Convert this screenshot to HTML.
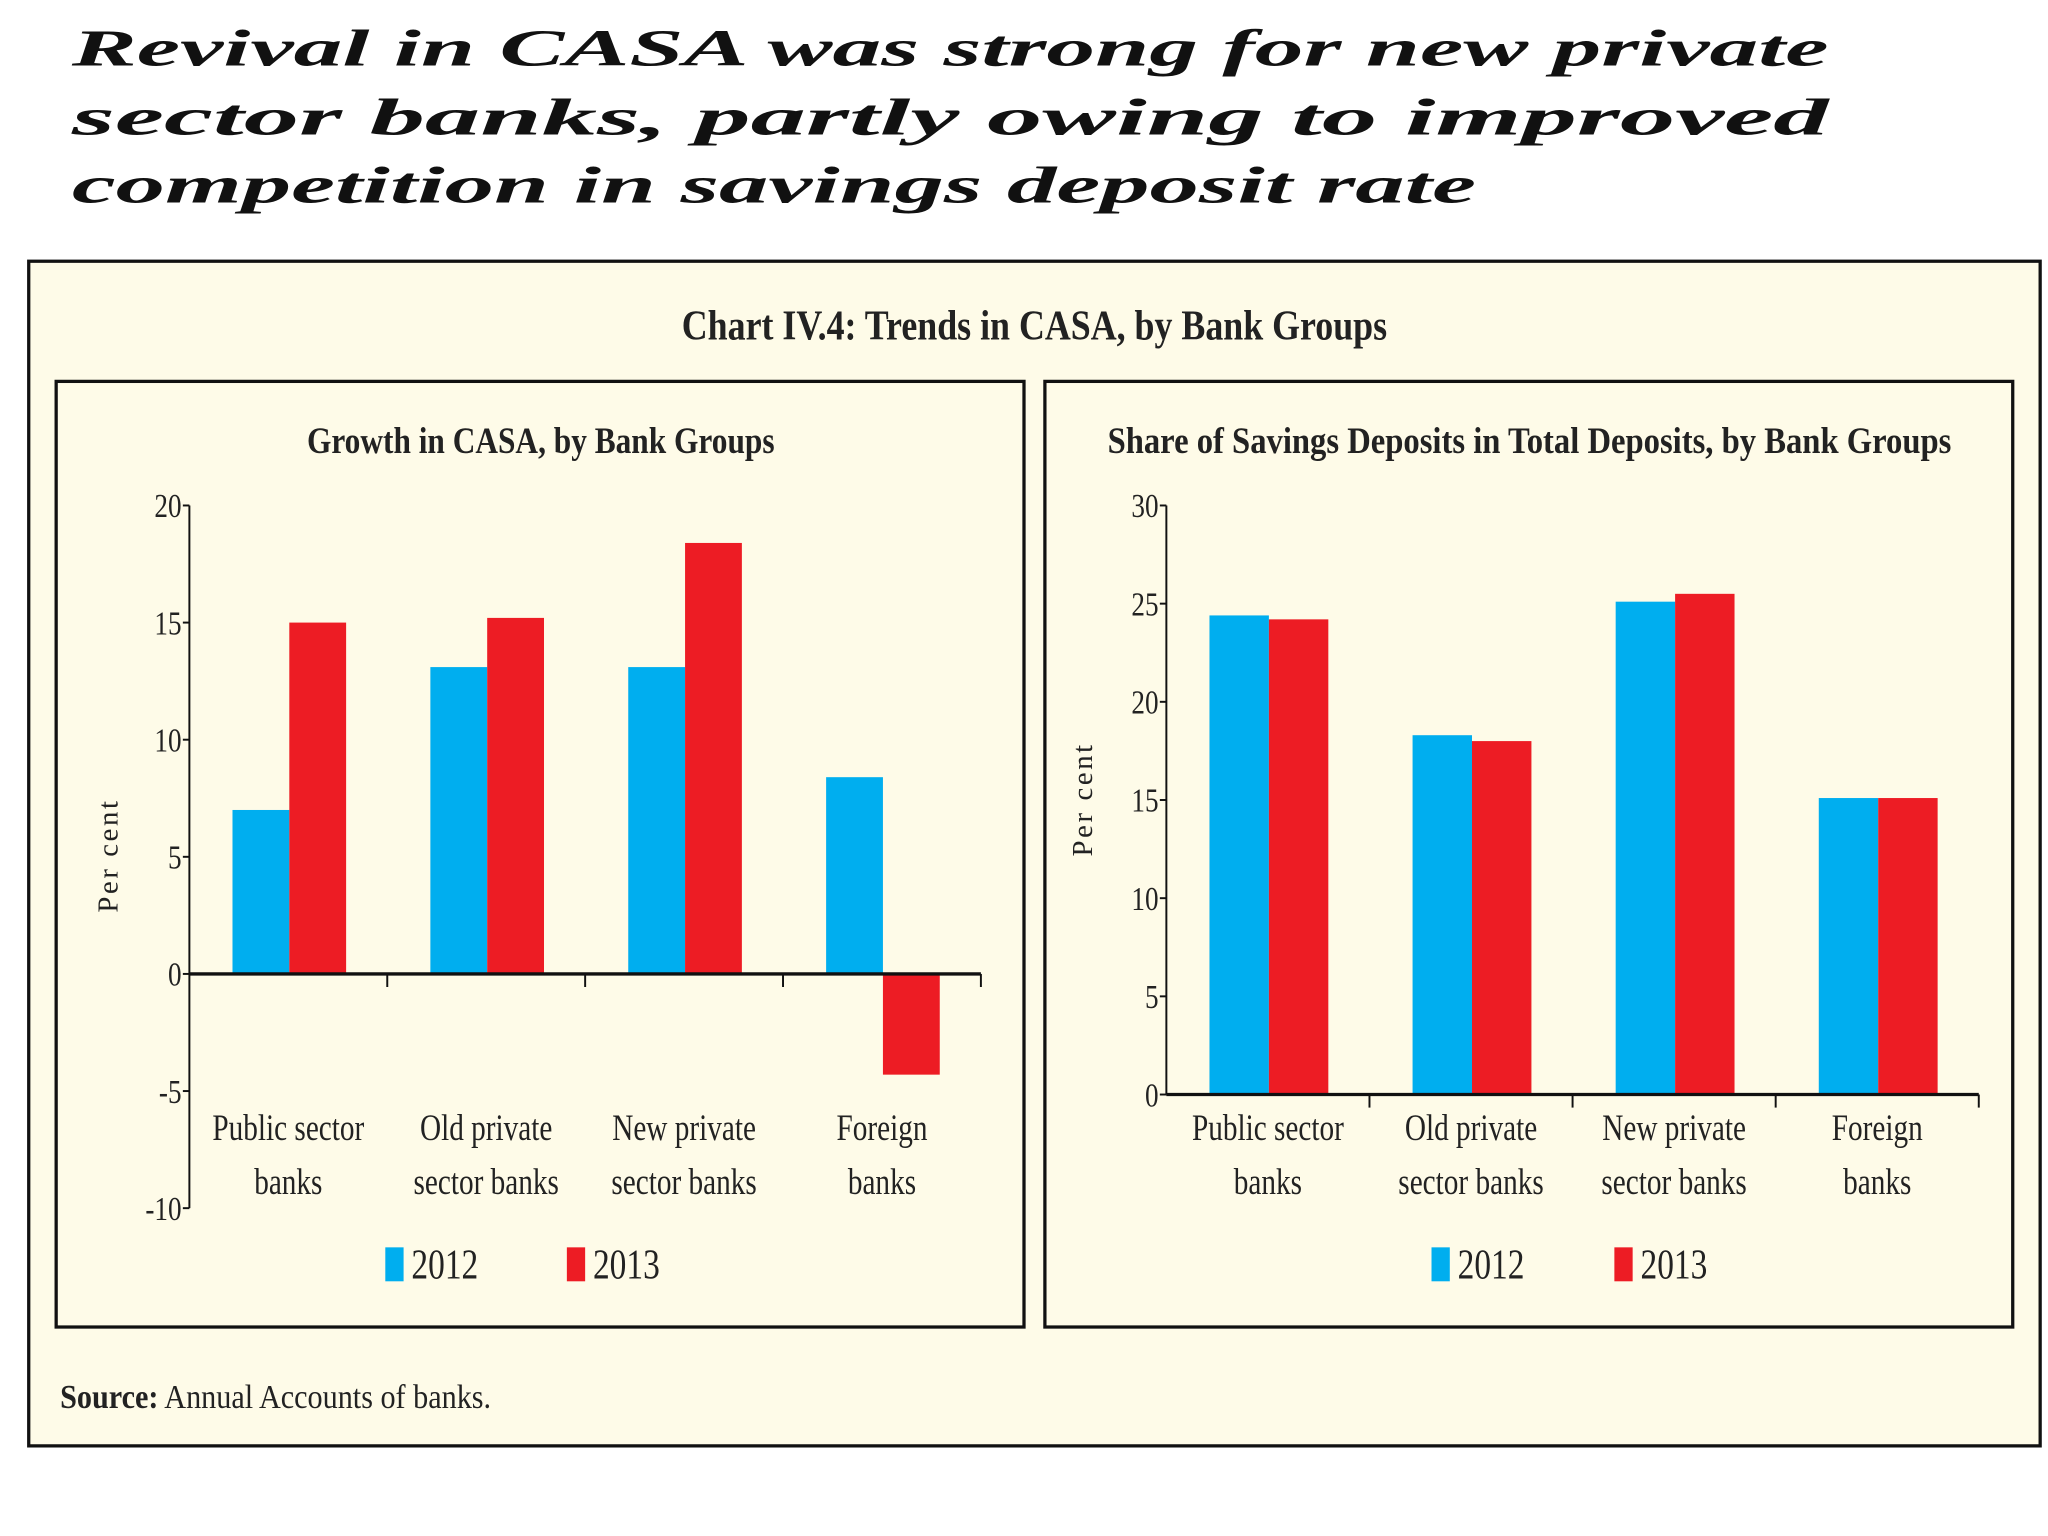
<!DOCTYPE html>
<html><head><meta charset="utf-8"><style>
html,body{margin:0;padding:0;background:#fff;width:2048px;height:1536px;overflow:hidden}
#wrap{transform:scale(1.306122);transform-origin:0 0;width:1568px;height:1176px}
text{font-family:"Liberation Serif",serif}
</style></head><body>
<div id="wrap">
<svg id="svg" width="1568" height="1176" viewBox="0 0 1568 1176">
<g font-weight="bold" font-style="italic" font-size="40" fill="#111">
<text x="55" y="50" textLength="1345" lengthAdjust="spacingAndGlyphs">Revival in CASA was strong for new private</text>
<text x="55" y="103" textLength="1345" lengthAdjust="spacingAndGlyphs">sector  banks,  partly  owing  to  improved</text>
<text x="55" y="155" textLength="1075" lengthAdjust="spacingAndGlyphs">competition in savings deposit rate</text>
</g>
<rect x="22" y="200" width="1540" height="907" fill="#fefbe8" stroke="#111" stroke-width="2.5"/>
<text x="522" y="260" textLength="540" lengthAdjust="spacingAndGlyphs" font-size="32" font-weight="bold" fill="#222">Chart IV.4: Trends in CASA, by Bank Groups</text>
<rect x="43" y="292" width="741" height="724" fill="none" stroke="#111" stroke-width="2.5"/>
<rect x="800" y="292" width="741" height="724" fill="none" stroke="#111" stroke-width="2.5"/>
<text x="235" y="347" textLength="358" lengthAdjust="spacingAndGlyphs" font-size="28" font-weight="bold" fill="#222">Growth in CASA, by Bank Groups</text>
<text x="848" y="347" textLength="646" lengthAdjust="spacingAndGlyphs" font-size="28" font-weight="bold" fill="#222">Share of Savings Deposits in Total Deposits, by Bank Groups</text>
<text x="46" y="1078" font-size="26" fill="#222" textLength="330" lengthAdjust="spacingAndGlyphs"><tspan font-weight="bold">Source:</tspan> Annual Accounts of banks.</text>
<g id="left"></g>
<g id="right"></g>
</svg>
</div>
<script>
const categories = [["Public sector","banks"],["Old private","sector banks"],["New private","sector banks"],["Foreign","banks"]];
const seriesNames = ["2012","2013"];
const growth2012 = [7.0, 13.1, 13.1, 8.4];
const growth2013 = [15.0, 15.2, 18.4, -4.3];
const share2012 = [24.4, 18.3, 25.1, 15.1];
const share2013 = [24.2, 18.0, 25.5, 15.1];
const leftTicks = [20, 15, 10, 5, 0, -5, -10];
const rightTicks = [30, 25, 20, 15, 10, 5, 0];
const colors = ["#00aeef", "#ed1c24"];
const NS = "http://www.w3.org/2000/svg";
function mk(tag, attrs, parent){const e=document.createElementNS(NS,tag);for(const k in attrs)e.setAttribute(k,attrs[k]);parent.appendChild(e);return e;}
function draw(g, cfg){
  const y = v => cfg.y0 + (v - cfg.min) / (cfg.max - cfg.min) * (cfg.y1 - cfg.y0);
  const catW = (cfg.xEnd - cfg.x0) / categories.length;
  // axis
  let ax = mk("line",{x1:cfg.x0,x2:cfg.x0,y1:y(cfg.max),y2:y(cfg.min),stroke:"#111","stroke-width":1.5},g);
  
  
  cfg.ticks.forEach(t=>{
    const tl=mk("line",{x1:cfg.x0-5,x2:cfg.x0,y1:y(t),y2:y(t),stroke:"#111","stroke-width":1.5},g);
    
    
    const tx=mk("text",{x:cfg.x0-6,y:y(t)+9,"text-anchor":"end","font-size":26,fill:"#222",transform:`translate(${cfg.x0-6},0) scale(0.8,1) translate(${-(cfg.x0-6)},0)`},g);
    tx.textContent=String(t);
    
    
  });
  // bars
  categories.forEach((c,i)=>{
    const gx = cfg.x0 + i*catW + cfg.off;
    [cfg.s1,cfg.s2].forEach((s,j)=>{
      const v=s[i];
      const top=Math.min(y(v),y(0)), h=Math.abs(y(v)-y(0));
      const r=mk("rect",{x:gx+j*cfg.bw,y:top,width:cfg.bw,height:h,fill:colors[j]},g);
      
      
    });
    const cx = cfg.x0 + (i+0.5)*catW;
    c.forEach((ln,k)=>{
      const t=mk("text",{x:cx,y:cfg.labY+k*41,"text-anchor":"middle","font-size":28,fill:"#222",transform:`translate(${cx},0) scale(0.8,1) translate(${-cx},0)`},g);
      t.textContent=ln;
      
      
    });
    const tk=mk("line",{x1:cfg.x0+(i+1)*catW,x2:cfg.x0+(i+1)*catW,y1:y(0),y2:y(0)+10,stroke:"#111","stroke-width":1.5},g);
    
    
  });
  const xa=mk("line",{x1:cfg.x0,x2:cfg.xEnd,y1:y(0),y2:y(0),stroke:"#111","stroke-width":2.5},g);
  
  
  const yt=mk("text",{x:0,y:0,"text-anchor":"middle","font-size":22,fill:"#222","letter-spacing":2,transform:`translate(${cfg.ylx},${cfg.yly}) rotate(-90)`},g);
  yt.textContent="Per cent";
  
  
  seriesNames.forEach((n,j)=>{
    const lx=cfg.legX[j];
    const sq=mk("rect",{x:lx,y:955,width:14,height:26,fill:colors[j]},g);
    
    
    const lt=mk("text",{x:lx+20,y:979,"font-size":32,fill:"#222",transform:`translate(${lx+20},0) scale(0.8,1) translate(${-(lx+20)},0)`},g);
    lt.textContent=n;
    
    
  });
}
draw(document.getElementById('left'),{x0:145,xEnd:751,min:20,max:-10,y0:387,y1:925,ticks:leftTicks,s1:growth2012,s2:growth2013,off:33,bw:43.5,labY:873,ylx:90,yly:655,legX:[295,434]});
draw(document.getElementById('right'),{x0:893,xEnd:1515,min:30,max:0,y0:387,y1:838,ticks:rightTicks,s1:share2012,s2:share2013,off:33,bw:45.5,labY:873,ylx:836,yly:612,legX:[1096,1236]});
</script>
</body></html>
